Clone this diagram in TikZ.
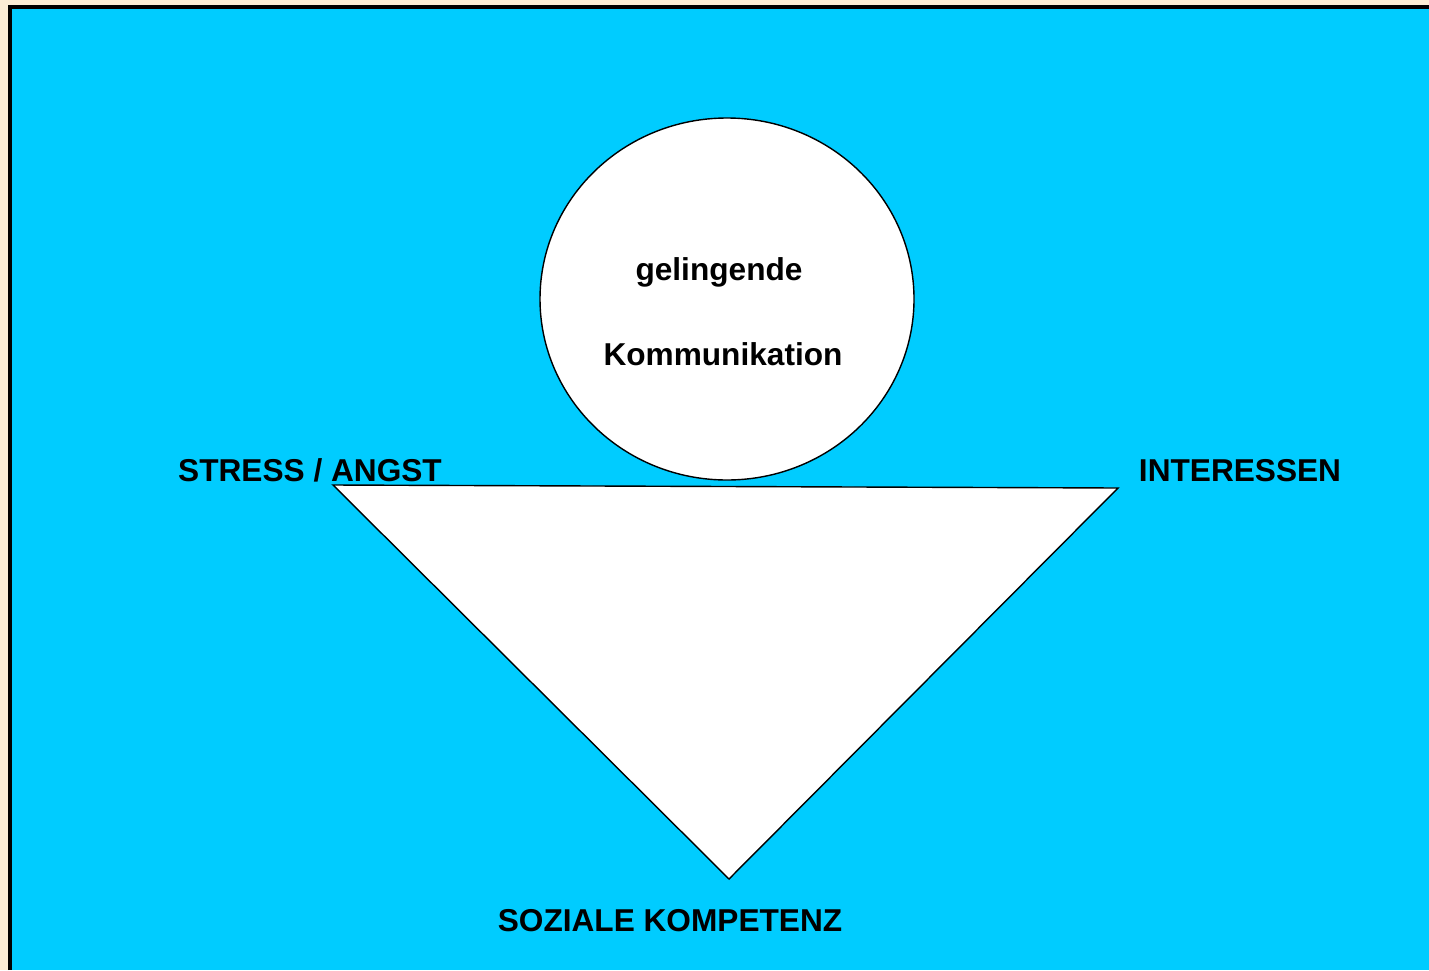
\documentclass[tikz,border=0pt]{standalone}
\usepackage{fontspec}
\setmainfont{Liberation Sans}
\begin{document}
\begin{tikzpicture}[x=0.02cm, y=-0.02cm]
            \definecolor{cream}{RGB}{251, 237, 214}
            \definecolor{sky}{RGB}{0, 204, 255}
            \tikzset{lbl/.style={anchor=base, font=\fontsize{18}{22}\selectfont\bfseries, inner sep=0pt}}

            \useasboundingbox (0,0) rectangle (1429,970);
            \fill[color=cream] (0,0) rectangle (1429,970);
            \fill[color=sky] (10,7) rectangle (1429,970);
            \draw[line width=2.2pt] (10,970) -- (10,7) -- (1429,7);

            \draw[fill=white, line width=0.8pt] (333,485) -- (1118,488) -- (729,879) -- cycle;
            \draw[fill=white, line width=0.8pt] (727,299) ellipse (187 and 181);

            \node[lbl] (top1) at (719,280) {gelingende};
            \node[lbl] (top2) at (723,365) {Kommunikation};
            \node[lbl] (left) at (310,481) {STRESS / ANGST};
            \node[lbl] (right) at (1240,481) {INTERESSEN};
            \node[lbl] (bottom) at (670,931) {SOZIALE KOMPETENZ};
        \end{tikzpicture}
\end{document}
